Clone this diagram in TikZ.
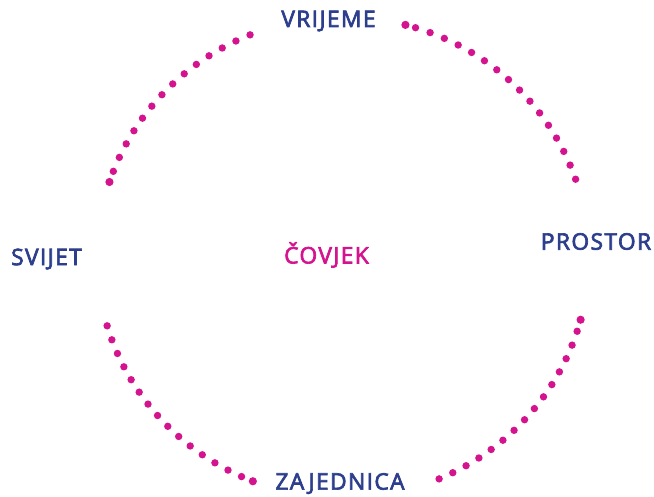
\documentclass[tikz,border=0pt]{standalone}
\usepackage{fontspec}
\setmainfont{Open Sans}
\newfontfamily\lblfont{Open Sans}[FakeBold=3,LetterSpace=6]
\definecolor{dotmag}{RGB}{212,20,142}
\definecolor{lblue}{RGB}{44,62,140}
\begin{document}
\begin{tikzpicture}[x=1pt,y=-1pt,
  lbl/.style={font=\lblfont\fontsize{22.8}{24}\selectfont, text=lblue, inner sep=0pt},
  centre/.style={font=\lblfont\fontsize{22.8}{24}\selectfont, text=dotmag, inner sep=0pt},
  dotc/.style={fill=dotmag, draw=none}]
\useasboundingbox (0,0) rectangle (654,496);
\def\cx{343}\def\cy{257.5}\def\rx{246}\def\ry{240.5}
% top-left arc
\foreach \i in {0,...,13} {\fill[dotc] ({\cx+\rx*cos(112.2+3.6*\i)},{\cy-\ry*sin(112.2+3.6*\i)}) circle (3.7);}
\fill[dotc] ({\cx+\rx*cos(161.7)},{\cy-\ry*sin(161.7)}) circle (4.1);
% top-right arc
\foreach \i in {0,...,15} {\fill[dotc] ({\cx+\rx*cos(19.0+3.59*\i)},{\cy-\ry*sin(19.0+3.59*\i)}) circle (3.7);}
\fill[dotc] ({\cx+\rx*cos(75.3)},{\cy-\ry*sin(75.3)}) circle (4.1);
% bottom-left arc
\foreach \i in {0,...,14} {\fill[dotc] ({\cx+\rx*cos(196.5+3.51*\i)},{\cy-\ry*sin(196.5+3.51*\i)}) circle (3.7);}
\fill[dotc] ({\cx+\rx*cos(248.5)},{\cy-\ry*sin(248.5)}) circle (4.1);
% bottom-right arc
\foreach \i in {0,...,14} {\fill[dotc] ({\cx+\rx*cos(-67.0+3.51*\i)},{\cy-\ry*sin(-67.0+3.51*\i)}) circle (3.7);}
\fill[dotc] ({\cx+\rx*cos(-15.0)},{\cy-\ry*sin(-15.0)}) circle (4.1);
% labels
\node[lbl] (vrijeme) at (328.5,21) {VRIJEME};
\node[lbl] (prostor) at (596,241.5) {PROSTOR};
\node[lbl] (svijet) at (46.5,259) {SVIJET};
\node[centre] (covjek) at (326.5,255) {ČOVJEK};
\node[lbl] (zajednica) at (340,483.5) {ZAJEDNICA};
\end{tikzpicture}
\end{document}
